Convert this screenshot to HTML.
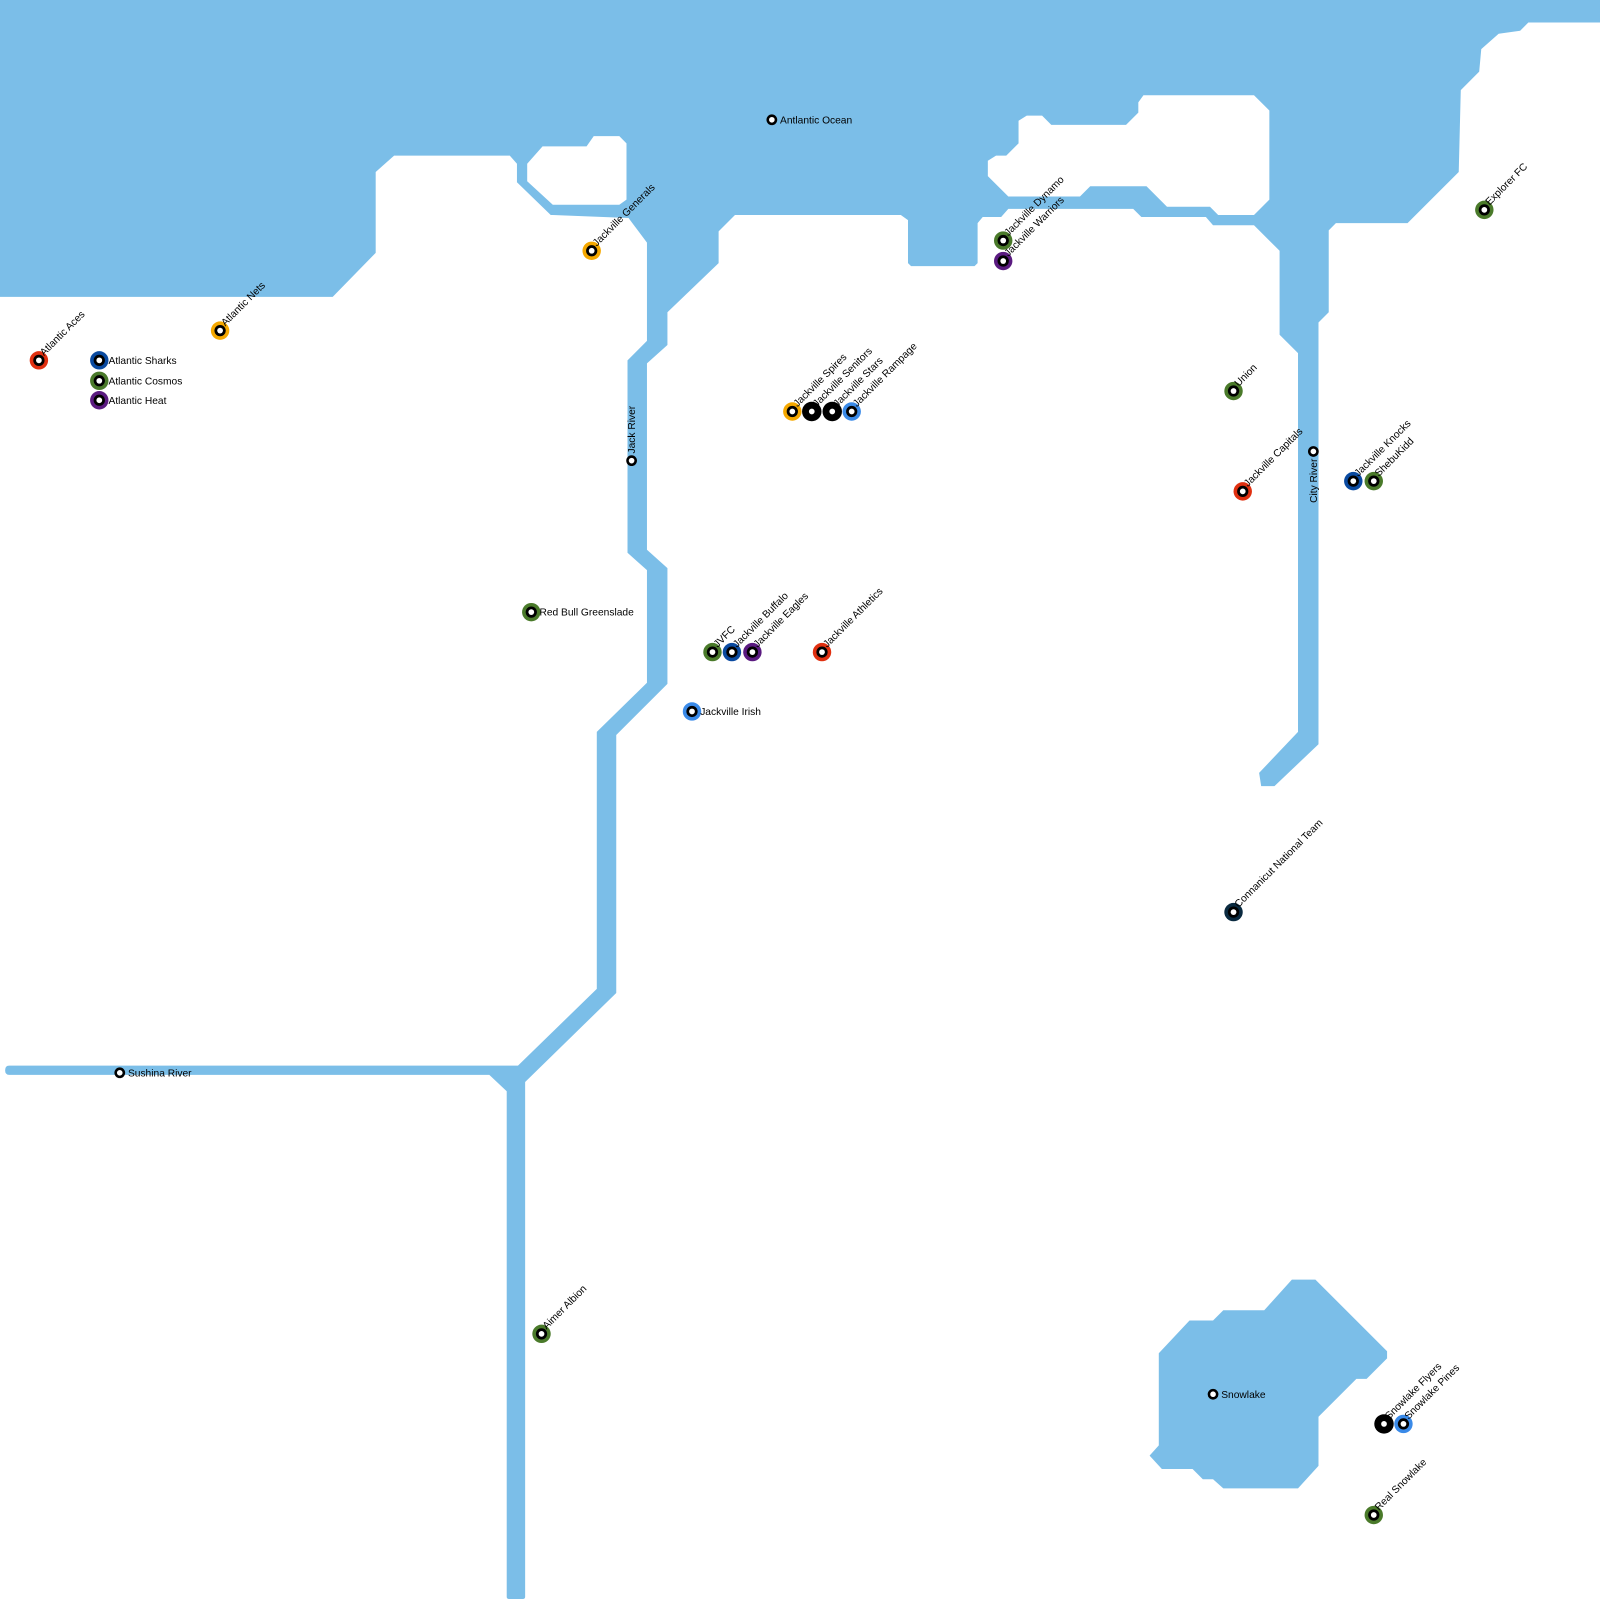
<!DOCTYPE html>
<html><head><meta charset="utf-8"><style>
html,body{margin:0;padding:0;background:#fff}
svg{display:block}
text{font-family:"Liberation Sans",Arial,sans-serif;font-size:10px;fill:#000}
</style></head><body>
<svg width="1600" height="1600" viewBox="0 0 1563 1563" xmlns="http://www.w3.org/2000/svg">
<g fill="#7bbee8">
<path d="M0,0 L1563,0 L1563,22 L1493,22 L1485,30 L1464,33 L1447,48 L1445,70 L1427,88 L1425,168 L1375,218 L1305,218 L1298,225 L1298,305 L1288,315 L1288,727 L1245,768 L1232,768 L1230,755 L1268,715 L1268,345 L1250,327 L1250,245 L1225,220 L1185,220 L1178,212 L1115,212 L1107,204 L985,204 L978,212 L960,212 L955,218 L955,257 L952,260 L890,260 L887,257 L887,215 L880,210 L718,210 L702,226 L702,257 L652,305 L652,337 L632,355 L632,537 L652,555 L652,668 L602,718 L602,970 L513,1057 L513,1560 Q513,1562 511,1562 L497,1562 Q495,1562 495,1560 L495,1066 L478,1050 L9,1050 Q5,1050 5,1045.5 Q5,1041 9,1041 L506,1041 L583,966 L583,715 L632,667 L632,557 L613,540 L613,352 L632,333 L632,237 L614,213 L540,210 L538,210 L505,178 L505,160 L498,152 L385,152 L367,168 L367,247 L325,290 L0,290 Z"/>
<path d="M1132,1322 L1162,1290 L1185,1290 L1195,1280 L1235,1280 L1262,1250 L1285,1250 L1355,1320 L1355,1327 L1335,1347 L1325,1347 L1288,1384 L1288,1432 L1268,1454 L1195,1454 L1185,1445 L1175,1445 L1165,1435 L1135,1435 L1123,1422 L1132,1412 Z"/>
</g>
<g fill="#fff">
<path d="M530,143 L573,143 L580,133 L605,133 L612,140 L612,195 L605,200 L540,200 L515,177 L515,160 Z"/>
<path d="M1117,93 L1225,93 L1240,108 L1240,195 L1225,210 L1190,210 L1182,202 L1140,202 L1120,182 L1065,182 L1055,192 L985,192 L965,172 L965,157 L973,152 L983,152 L995,140 L995,118 L1003,113 L1018,113 L1027,122 L1100,122 L1112,110 L1112,100 Z"/>
</g>
<defs>
<g id="st"><circle r="5.5" fill="#000"/><circle r="2.8" fill="#fff"/></g>
</defs>
<g>
<!-- colored stations -->
<g fill="#e03010"><circle cx="38" cy="352" r="9"/><circle cx="1214" cy="480" r="9"/><circle cx="803" cy="637" r="9"/></g>
<g fill="#0a4aa0"><circle cx="97" cy="352" r="9"/><circle cx="715" cy="637" r="9"/><circle cx="1322" cy="470" r="9"/></g>
<g fill="#4a7a2a"><circle cx="97" cy="372" r="9"/><circle cx="980" cy="235" r="9"/><circle cx="1205" cy="382" r="9"/><circle cx="1342" cy="470" r="9"/><circle cx="1450" cy="205" r="9"/><circle cx="519" cy="598" r="9"/><circle cx="696" cy="637" r="9"/><circle cx="529" cy="1303" r="9"/><circle cx="1342" cy="1480" r="9"/></g>
<g fill="#5a1a80"><circle cx="97" cy="391" r="9"/><circle cx="980" cy="255" r="9"/><circle cx="735" cy="637" r="9"/></g>
<g fill="#f5a800"><circle cx="215" cy="323" r="9"/><circle cx="578" cy="245" r="9"/><circle cx="774" cy="402" r="9"/></g>
<g fill="#000"><circle cx="793" cy="402" r="9.5"/><circle cx="813" cy="402" r="9.5"/><circle cx="1352" cy="1391" r="9.5"/></g>
<g fill="#3a8ae8"><circle cx="832" cy="402" r="9"/><circle cx="676" cy="695" r="9"/><circle cx="1371" cy="1391" r="9"/></g>
<circle cx="1205" cy="891" r="9" fill="#0a2a40"/>
<use href="#st" x="38" y="352"/><use href="#st" x="1214" y="480"/><use href="#st" x="803" y="637"/>
<use href="#st" x="97" y="352"/><use href="#st" x="715" y="637"/><use href="#st" x="1322" y="470"/>
<use href="#st" x="97" y="372"/><use href="#st" x="980" y="235"/><use href="#st" x="1205" y="382"/><use href="#st" x="1342" y="470"/><use href="#st" x="1450" y="205"/><use href="#st" x="519" y="598"/><use href="#st" x="696" y="637"/><use href="#st" x="529" y="1303"/><use href="#st" x="1342" y="1480"/>
<use href="#st" x="97" y="391"/><use href="#st" x="980" y="255"/><use href="#st" x="735" y="637"/>
<use href="#st" x="215" y="323"/><use href="#st" x="578" y="245"/><use href="#st" x="774" y="402"/>
<use href="#st" x="793" y="402"/><use href="#st" x="813" y="402"/><use href="#st" x="1352" y="1391"/>
<use href="#st" x="832" y="402"/><use href="#st" x="676" y="695"/><use href="#st" x="1371" y="1391"/>
<use href="#st" x="1205" y="891"/>
<!-- plain -->
<g fill="#fff" stroke="#000" stroke-width="2.5">
<circle cx="754" cy="117" r="4"/><circle cx="617" cy="450" r="4"/><circle cx="1283" cy="441" r="4"/><circle cx="117" cy="1048" r="4"/><circle cx="1185" cy="1362" r="4"/>
</g>
</g>
<!-- horizontal labels -->
<text x="106" y="355.5">Atlantic Sharks</text>
<text x="106" y="375.5">Atlantic Cosmos</text>
<text x="106" y="394.5">Atlantic Heat</text>
<text x="762" y="120.5">Antlantic Ocean</text>
<text x="527" y="601.5">Red Bull Greenslade</text>
<text x="684" y="698.5">Jackville Irish</text>
<text x="125" y="1051.5">Sushina River</text>
<text x="1193" y="1365.5">Snowlake</text>
<!-- vertical labels -->
<text transform="translate(620.5,443) rotate(-90)">Jack River</text>
<text transform="translate(1286.5,448) rotate(-90)" text-anchor="end">City River</text>
<!-- rotated labels -->
<g>
<text transform="translate(43,348) rotate(-45)">Atlantic Aces</text>
<text transform="translate(220,319) rotate(-45)">Atlantic Nets</text>
<text transform="translate(583,241) rotate(-45)">Jackville Generals</text>
<text transform="translate(779,398) rotate(-45)">Jackville Spires</text>
<text transform="translate(798,398) rotate(-45)">Jackville Senitors</text>
<text transform="translate(818,398) rotate(-45)">Jackville Stars</text>
<text transform="translate(837,398) rotate(-45)">Jackville Rampage</text>
<text transform="translate(985,231) rotate(-45)">Jackville Dynamo</text>
<text transform="translate(985,251) rotate(-45)">Jackville Warriors</text>
<text transform="translate(1210,378) rotate(-45)">Union</text>
<text transform="translate(1219,476) rotate(-45)">Jackville Capitals</text>
<text transform="translate(1327,466) rotate(-45)">Jackville Knocks</text>
<text transform="translate(1347,466) rotate(-45)">ShebuKidd</text>
<text transform="translate(1455,201) rotate(-45)">Explorer FC</text>
<text transform="translate(701,633) rotate(-45)">JVFC</text>
<text transform="translate(720,633) rotate(-45)">Jackville Buffalo</text>
<text transform="translate(740,633) rotate(-45)">Jackville Eagles</text>
<text transform="translate(808,633) rotate(-45)">Jackville Athletics</text>
<text transform="translate(1210,887) rotate(-45)">Connanicut National Team</text>
<text transform="translate(534,1299) rotate(-45)">Aimer Albion</text>
<text transform="translate(1357,1387) rotate(-45)">Snowlake Flyers</text>
<text transform="translate(1376,1387) rotate(-45)">Snowlake Pines</text>
<text transform="translate(1347,1476) rotate(-45)">Real Snowlake</text>
</g>
</svg>
</body></html>
